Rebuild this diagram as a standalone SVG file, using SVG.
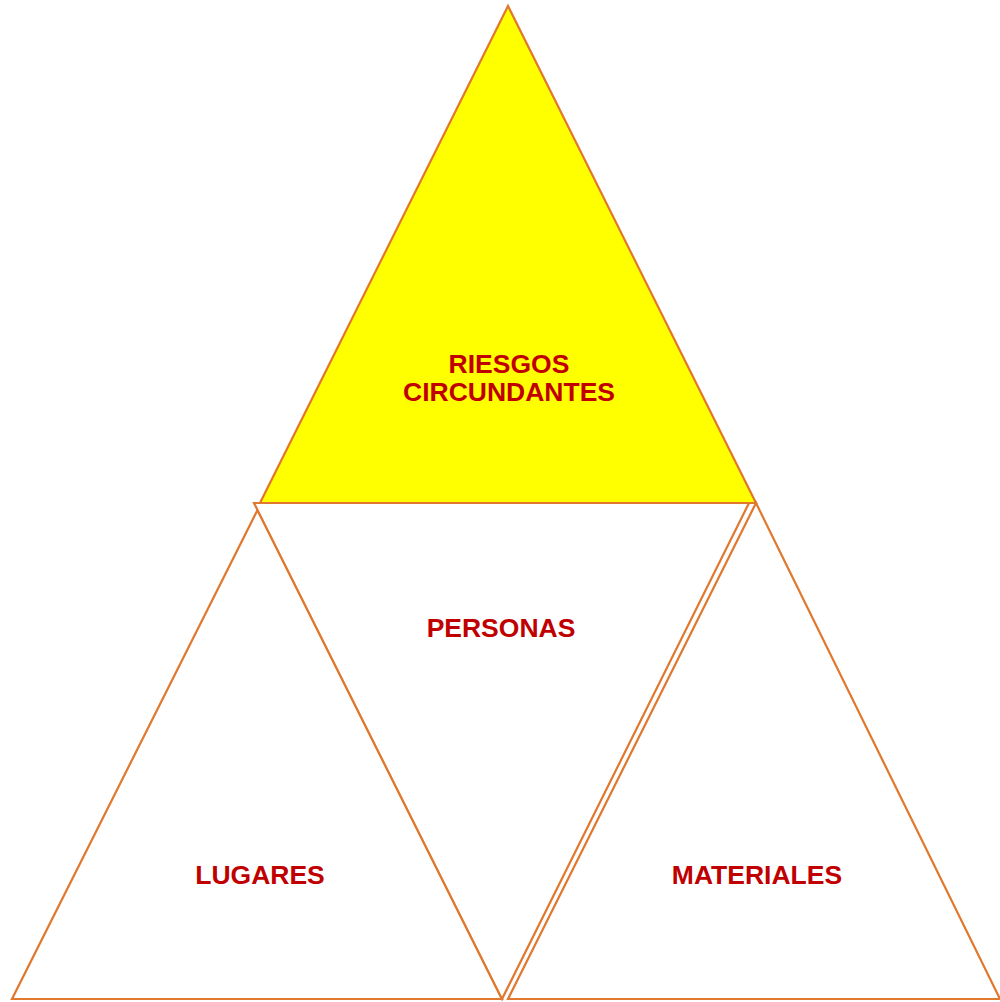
<svg xmlns="http://www.w3.org/2000/svg" width="1000" height="1002" viewBox="0 0 1000 1002">
<style>
.tri{fill:#FFFFFF;stroke:#E0782E;stroke-width:2.2;stroke-linejoin:miter}
.top{fill:#FFFF00}
.lbl{font-family:"Liberation Sans",Arial,sans-serif;font-weight:bold;font-size:26.5px;fill:#C00000;text-anchor:middle}
</style>
<rect width="1000" height="1002" fill="#FFFFFF"/>
<g id="riesgos">
<polygon class="tri top" points="508,6 260,503 756,503"/>
<text class="lbl" x="509" y="373">RIESGOS</text>
<text class="lbl" x="509" y="401">CIRCUNDANTES</text>
</g>
<g id="lugares">
<polygon class="tri" points="257.5,510 12,999 502,999"/>
<text class="lbl" x="260" y="884">LUGARES</text>
</g>
<g id="materiales">
<polygon class="tri" points="756,503 508,999 1000,999"/>
<text class="lbl" x="757" y="884">MATERIALES</text>
</g>
<g id="personas">
<polygon class="tri" points="254,503 749,503 502,999"/>
<text class="lbl" x="501" y="637">PERSONAS</text>
</g>
<g id="connectors"></g>
</svg>
